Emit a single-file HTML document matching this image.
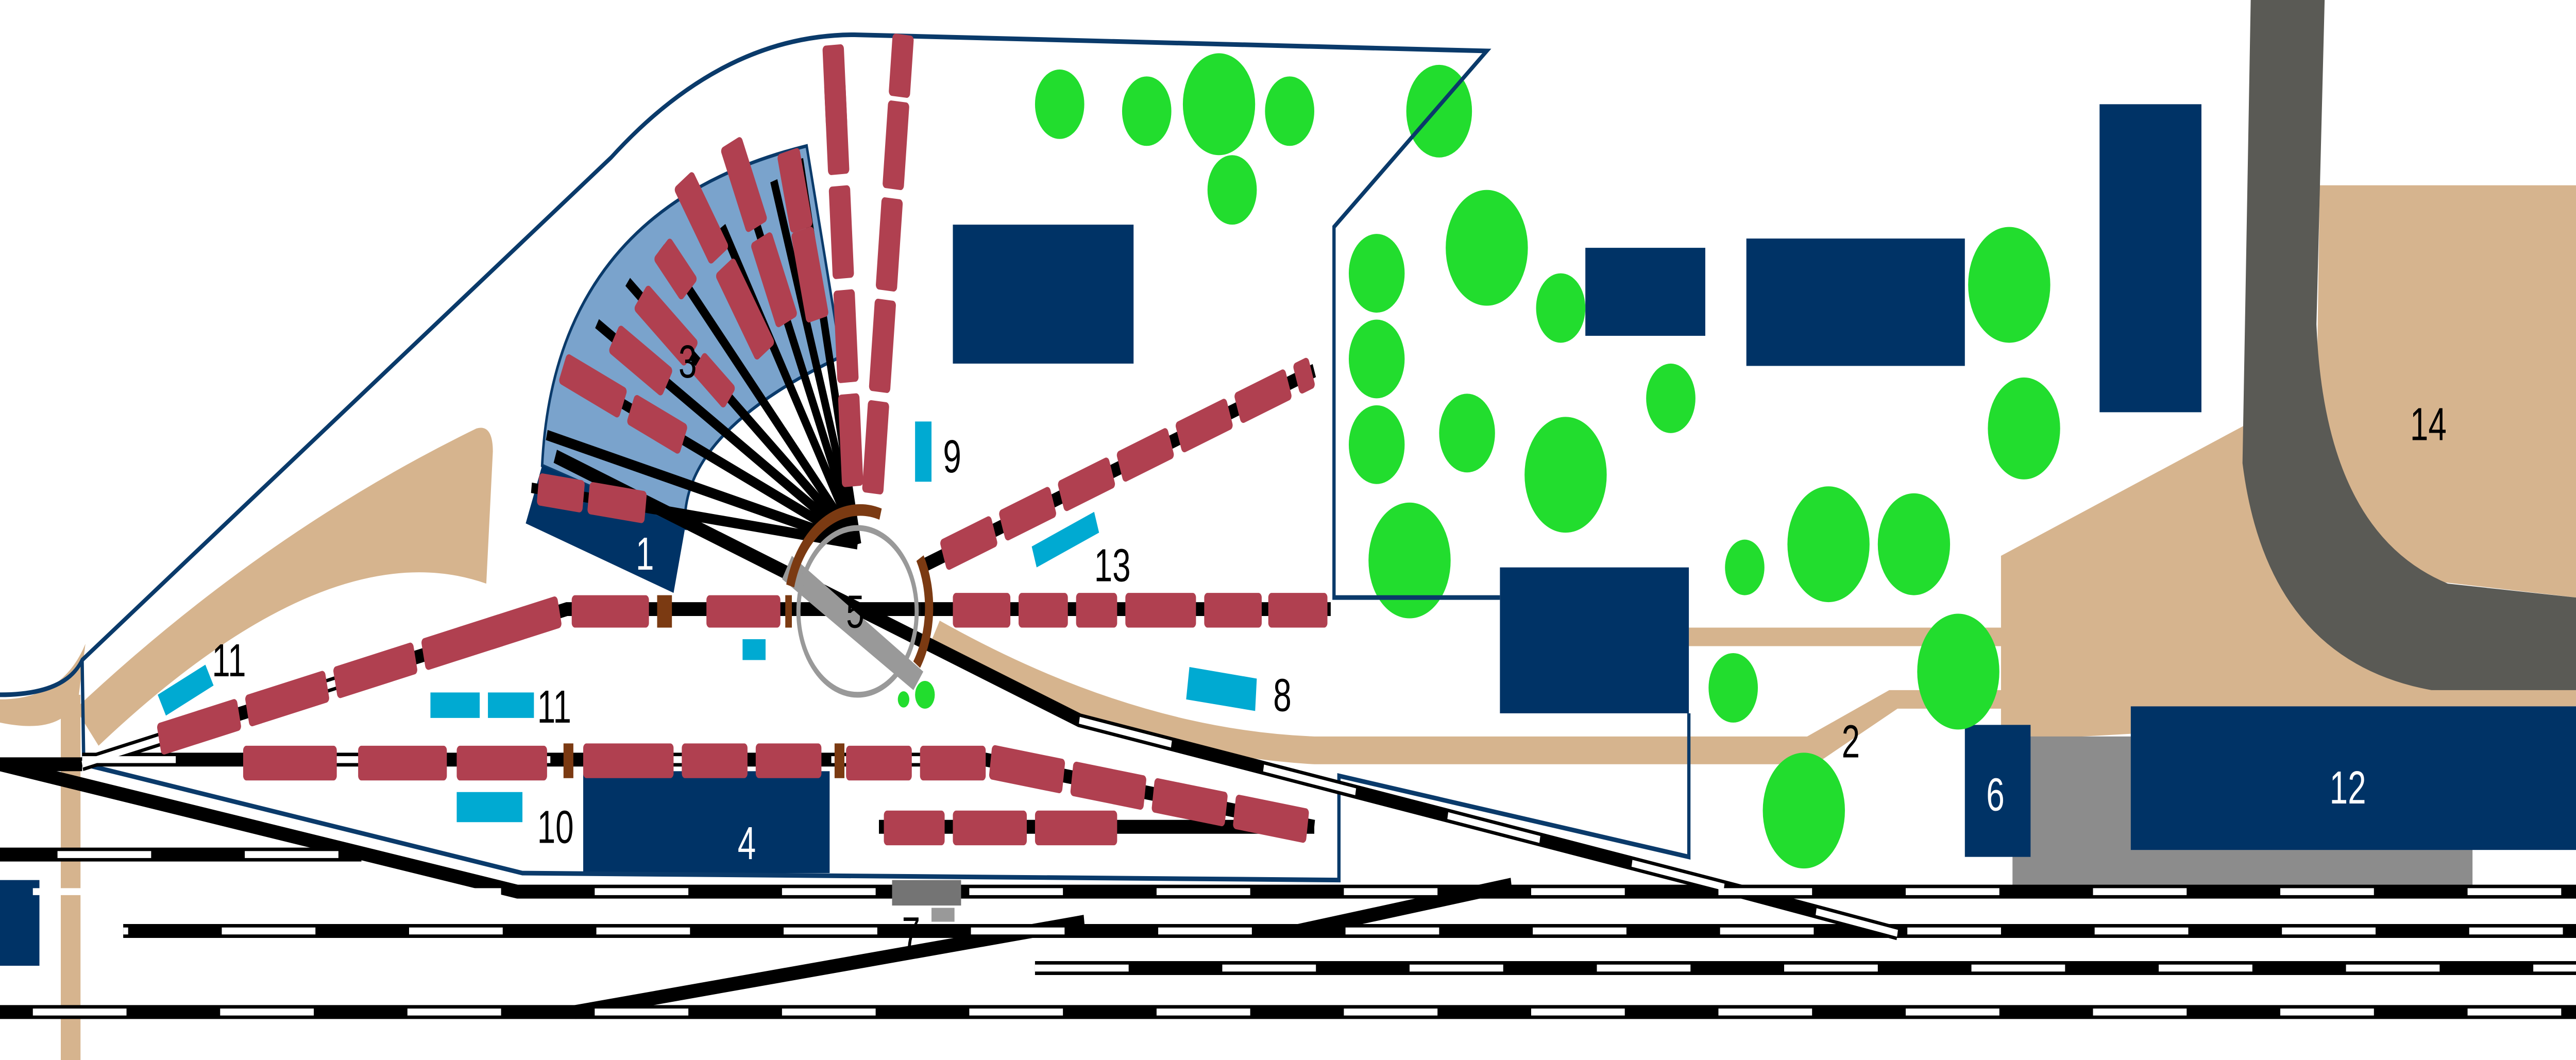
<!DOCTYPE html>
<html><head><meta charset="utf-8"><style>html,body{margin:0;padding:0;background:#fff;overflow:hidden;width:100vw;height:100vh}svg{display:block;position:absolute;left:0;top:0;width:100vw;height:100vh}text{font-family:"Liberation Sans",sans-serif;font-size:20px}</style></head>
<body>
<svg viewBox="0 0 1568 457.7" preserveAspectRatio="none" xmlns="http://www.w3.org/2000/svg">
<rect width="1568" height="458" fill="#fff"/>
<path d="M0,302 Q38,302 52,278 L48,300 Q40,318 0,312 Z" fill="#d6b48e"/>
<path d="M46,306 Q160,230 290,185 Q300,183 300,195 L296,252 Q200,228 60,322 Z" fill="#d6b48e"/>
<rect x="37" y="300" width="12" height="158" fill="#d6b48e"/>
<path d="M572,268 Q690,315 800,318 L1100,318 L1150,298 L1568,298 L1568,306 L1155,306 L1105,330 L800,330 Q680,325 565,280 Z" fill="#d6b48e"/>
<rect x="1028" y="271" width="195" height="8" fill="#d6b48e"/>
<polygon points="1218,240 1368,183 1380,240 1440,285 1568,298 1568,306 1218,320" fill="#d6b48e"/>
<polygon points="1412,80 1568,80 1568,258 1470,250 1430,225 1410,180" fill="#d6b48e"/>
<rect x="1225" y="318" width="280" height="69" fill="#8c8c8c"/>
<path d="M1370,0 L1415,0 L1410,140 Q1415,230 1490,252 L1568,258 L1568,298 L1480,298 Q1380,285 1365,200 Z" fill="#5a5a55"/>
<g fill="#003366">
<rect x="580" y="97" width="110" height="60"/>
<rect x="965" y="107" width="73" height="38"/>
<rect x="1063" y="103" width="133" height="55"/>
<rect x="1278" y="45" width="62" height="133"/>
<rect x="913" y="245" width="115" height="63"/>
<rect x="355" y="333" width="150" height="44"/>
<rect x="1196" y="313" width="40" height="57"/>
<rect x="1297" y="305" width="271" height="62"/>
<rect x="0" y="380" width="24" height="37"/>
</g>
<g fill="#22dd2e">
<circle cx="645" cy="45" r="15"/><circle cx="698" cy="48" r="15"/><circle cx="742" cy="45" r="22"/><circle cx="785" cy="48" r="15"/><circle cx="750" cy="82" r="15"/><circle cx="876" cy="48" r="20"/><circle cx="838" cy="118" r="17"/><circle cx="905" cy="107" r="25"/><circle cx="950" cy="133" r="15"/><circle cx="838" cy="155" r="17"/><circle cx="838" cy="192" r="17"/><circle cx="893" cy="187" r="17"/><circle cx="953" cy="205" r="25"/><circle cx="1017" cy="172" r="15"/><circle cx="858" cy="242" r="25"/><circle cx="1062" cy="245" r="12"/><circle cx="1113" cy="235" r="25"/><circle cx="1165" cy="235" r="22"/><circle cx="1223" cy="123" r="25"/><circle cx="1232" cy="185" r="22"/><circle cx="1192" cy="290" r="25"/><circle cx="1055" cy="297" r="15"/><circle cx="1098" cy="350" r="25"/><circle cx="563" cy="300" r="6"/><circle cx="550" cy="302" r="3.5"/>
</g>
<path d="M330,201 Q337.5,90 491,63 L512,154 Q413.5,187 417,228 Z" fill="#7aa3cc" stroke="#0a3a6a" stroke-width="1.5"/>
<polygon points="320,226 330,201 417,228 410,256" fill="#003366"/>
<g fill="none" stroke="#0a3a6a" stroke-width="2">
<path d="M0,300 Q40,300 50,285 L372,68 Q440,15 520,15 L905,22 L812,98 L812,258 L913,258"/>
<path d="M50,285 L51,330 L318,377 L815,380 L815,335 L1028,370 L1028,308"/>
</g>
<g fill="none" stroke-linecap="butt">
<g stroke="#000" stroke-width="6">
<path d="M0,330 L50,330"/>
<path d="M0,330 L315,385 L1568,385"/>
<path d="M75,402 L1568,402"/>
<path d="M0,437 L1568,437"/>
<path d="M0,369 L220,369"/>
<path d="M630,418 L1568,418"/>
<path d="M350,437 L660,398"/>
<path d="M790,402 L920,382"/>
<path d="M338,197 L657,311 L1060,385 L1155,403"/>
<path d="M50,330 L345,263 L560,263"/>
<path d="M50,328 L600,328 L800,357"/>
<path d="M535,357 L800,357"/>
<path d="M560,263 L810,263"/>
<path d="M560,245 L800,160"/>
</g>
<g stroke="#fff" stroke-width="3" stroke-dasharray="57 57">
<path d="M0,385 L1568,385" stroke-dashoffset="-20"/>
<path d="M75,402 L1568,402" stroke-dashoffset="-60"/>
<path d="M0,437 L1568,437" stroke-dashoffset="-20"/>
<path d="M0,369 L220,369" stroke-dashoffset="-35"/>
<path d="M630,418 L1568,418"/>
<path d="M657,311 L1060,385 L1155,403"/>
<path d="M50,330 L345,263"/>
<path d="M50,328 L600,328"/>
</g>
</g>
<g stroke="#000" stroke-width="4.5">
<g transform="translate(522,235)">
<line x1="0" y1="0" x2="200" y2="0" transform="rotate(187)"/>
<line x1="0" y1="0" x2="195" y2="0" transform="rotate(194)"/>
<line x1="0" y1="0" x2="190" y2="0" transform="rotate(203)"/>
<line x1="0" y1="0" x2="185" y2="0" transform="rotate(211)"/>
<line x1="0" y1="0" x2="180" y2="0" transform="rotate(219)"/>
<line x1="0" y1="0" x2="175" y2="0" transform="rotate(227)"/>
<line x1="0" y1="0" x2="160" y2="0" transform="rotate(239)"/>
<line x1="0" y1="0" x2="165" y2="0" transform="rotate(246)"/>
<line x1="0" y1="0" x2="165" y2="0" transform="rotate(252)"/>
<line x1="0" y1="0" x2="170" y2="0" transform="rotate(258)"/>
</g>
</g>
<path d="M482,240 L562,290 L556,298 L476,250 Z" fill="#999"/>
<circle cx="522" cy="264" r="36" fill="none" stroke="#999" stroke-width="2.5"/>
<g fill="none" stroke="#7b3a12" stroke-width="5">
<path d="M481,253 A44,44 0 0 1 536,222"/>
<path d="M560,241 A44,44 0 0 1 558,287"/>
</g>
<g fill="#7b3a12">
<rect x="343" y="321" width="6" height="15"/><rect x="508" y="321" width="6" height="15"/>
<rect x="400" y="257" width="9" height="14"/><rect x="478" y="257" width="4" height="14"/>
</g>
<g fill="#b04050">
<rect x="148" y="322" width="57" height="15" rx="2"/><rect x="218" y="322" width="54" height="15" rx="2"/><rect x="278" y="322" width="55" height="15" rx="2"/>
<rect x="355" y="321" width="55" height="15" rx="2"/><rect x="415" y="321" width="40" height="15" rx="2"/><rect x="460" y="321" width="40" height="15" rx="2"/>
<rect x="515" y="322" width="40" height="15" rx="2"/><rect x="560" y="322" width="40" height="15" rx="2"/>
<g transform="translate(600,328) rotate(8.2)"><rect x="3" y="-7" width="45" height="15" rx="2"/><rect x="53" y="-7" width="45" height="15" rx="2"/><rect x="103" y="-7" width="45" height="15" rx="2"/><rect x="153" y="-7" width="45" height="15" rx="2"/></g>
<rect x="538" y="350" width="37" height="15" rx="2"/><rect x="580" y="350" width="45" height="15" rx="2"/><rect x="630" y="350" width="50" height="15" rx="2"/>
<rect x="580" y="256" width="35" height="15" rx="2"/><rect x="620" y="256" width="30" height="15" rx="2"/><rect x="655" y="256" width="25" height="15" rx="2"/><rect x="685" y="256" width="43" height="15" rx="2"/><rect x="733" y="256" width="35" height="15" rx="2"/><rect x="772" y="256" width="36" height="15" rx="2"/>
<g transform="translate(50,330) rotate(-12.8)"><rect x="48" y="-7" width="50" height="14" rx="2"/><rect x="103" y="-7" width="50" height="14" rx="2"/><rect x="158" y="-7" width="50" height="14" rx="2"/><rect x="213" y="-7" width="50" height="14" rx="2"/><rect x="253" y="-7" width="45" height="14" rx="2"/></g>
<rect x="348" y="257" width="47" height="14" rx="2"/><rect x="430" y="257" width="45" height="14" rx="2"/>
<g transform="translate(560,245) rotate(-19.5)"><rect x="15" y="-7" width="33" height="14" rx="2"/><rect x="53" y="-7" width="33" height="14" rx="2"/><rect x="91" y="-7" width="33" height="14" rx="2"/><rect x="129" y="-7" width="33" height="14" rx="2"/><rect x="167" y="-7" width="33" height="14" rx="2"/><rect x="205" y="-7" width="33" height="14" rx="2"/><rect x="243" y="-7" width="10" height="14" rx="2"/></g>
<g transform="translate(520,225) rotate(-93.6)"><rect x="15" y="-6.5" width="40" height="13" rx="2"/><rect x="60" y="-6.5" width="40" height="13" rx="2"/><rect x="105" y="-6.5" width="40" height="13" rx="2"/><rect x="150" y="-6.5" width="40" height="13" rx="2"/><rect x="170" y="-6.5" width="36" height="13" rx="2"/></g>
<g transform="translate(530,225) rotate(-84.6)"><rect x="12" y="-6.5" width="40" height="13" rx="2"/><rect x="56" y="-6.5" width="40" height="13" rx="2"/><rect x="100" y="-6.5" width="40" height="13" rx="2"/><rect x="144" y="-6.5" width="38" height="13" rx="2"/><rect x="184" y="-6.5" width="27" height="13" rx="2"/></g>
<g transform="translate(522,235)">
<g transform="rotate(187)"><rect x="130" y="-7" width="35" height="14" rx="2"/><rect x="168" y="-7" width="28" height="14" rx="2"/></g>
<g transform="rotate(203)"><rect x="115" y="-7" width="35" height="14" rx="2"/><rect x="155" y="-7" width="40" height="14" rx="2"/></g>
<g transform="rotate(211)"><rect x="135" y="-7" width="38" height="14" rx="2"/></g>
<g transform="rotate(219)"><rect x="100" y="-6" width="25" height="12" rx="2"/><rect x="130" y="-7" width="40" height="14" rx="2"/></g>
<g transform="rotate(227)"><rect x="150" y="-7" width="25" height="14" rx="2"/></g>
<g transform="rotate(236)"><rect x="100" y="-7" width="45" height="14" rx="2"/><rect x="150" y="-7" width="40" height="14" rx="2"/></g>
<g transform="rotate(246)"><rect x="105" y="-7" width="40" height="14" rx="2"/><rect x="150" y="-7" width="40" height="14" rx="2"/></g>
<g transform="rotate(256)"><rect x="100" y="-7" width="40" height="14" rx="2"/><rect x="140" y="-7" width="35" height="14" rx="2"/></g>
</g>
</g>
<g fill="#00aad2">
<polygon points="96,300 125,287 130,296 101,309"/>
<rect x="262" y="299" width="30" height="11"/><rect x="297" y="299" width="28" height="11"/>
<rect x="278" y="342" width="40" height="13"/>
<rect x="557" y="182" width="10" height="26"/>
<rect x="452" y="276" width="14" height="9"/>
<polygon points="628,236 666,221 669,230 631,245"/>
<polygon points="724,288 765,293 764,307 722,302"/>
</g>
<rect x="543" y="380" width="42" height="11" fill="#747474"/>
<rect x="567" y="392" width="14" height="6" fill="#999"/>
<g fill="#000">
<text x="413" y="163">3</text>
<text x="515" y="271">5</text>
<text x="1121" y="327">2</text>
<text x="549" y="410">7</text>
<text x="775" y="307">8</text>
<text x="574" y="204">9</text>
<text x="327" y="364">10</text>
<text x="129" y="292">11</text>
<text x="327" y="312">11</text>
<text x="666" y="251">13</text>
<text x="1467" y="190">14</text>
</g>
<g fill="#fff">
<text x="387" y="246">1</text>
<text x="449" y="371">4</text>
<text x="1209" y="350">6</text>
<text x="1418" y="347">12</text>
</g>
</svg>
</body></html>
